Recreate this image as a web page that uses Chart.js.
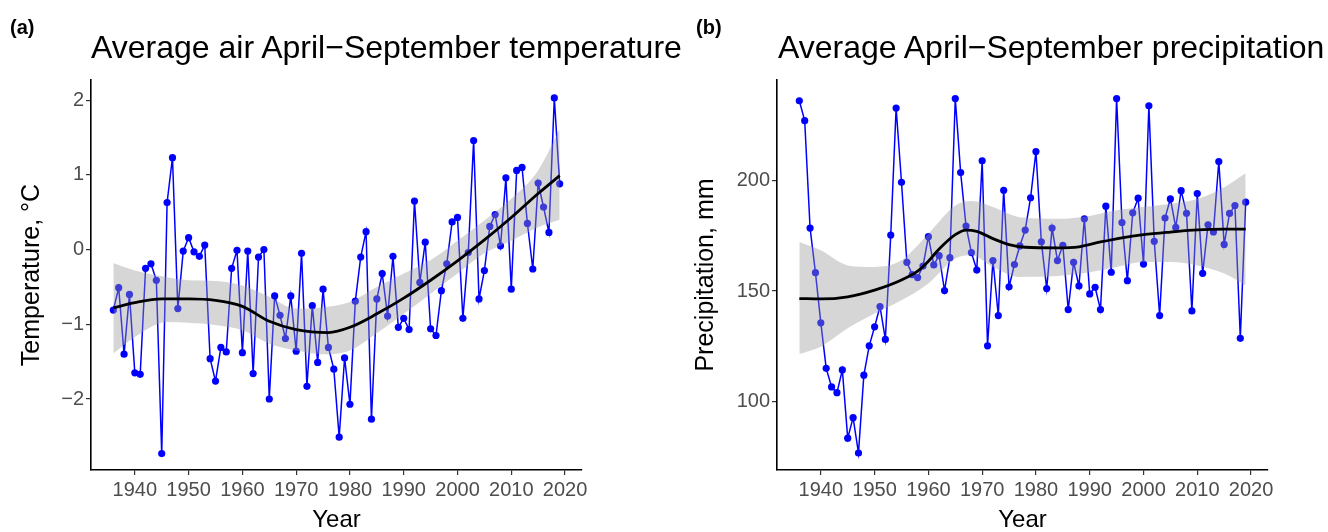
<!DOCTYPE html>
<html>
<head>
<meta charset="utf-8">
<script src="https://cdn.jsdelivr.net/npm/chart.js@4"></script>
<style>
    body { margin: 0; background: #fff; }
    #wrap { position: relative; width: 1328px; height: 532px; overflow: hidden; font-family: "Liberation Sans", Arial, sans-serif; }
    canvas { position: absolute; top: 0; }
    .tag { position: absolute; top: 17px; font-size: 20px; line-height: 20px; font-weight: bold; color: #000; }
    .ttl { position: absolute; top: 31px; font-size: 32px; line-height: 32px; color: #000; white-space: nowrap; }
</style>
</head>
<body>
<div id="wrap">
    <canvas id="chartA" width="664" height="532" style="left:0px"></canvas>
    <canvas id="chartB" width="664" height="532" style="left:664px"></canvas>
    <div class="tag" style="left:10px">(a)</div>
    <div class="ttl" style="left:91px">Average air April−September temperature</div>
    <div class="tag" style="left:696px">(b)</div>
    <div class="ttl" style="left:778px">Average April−September precipitation</div>
</div>
<script>
// Years of observation
const years = [1936, 1937, 1938, 1939, 1940, 1941, 1942, 1943, 1944, 1945,
    1946, 1947, 1948, 1949, 1950, 1951, 1952, 1953, 1954, 1955,
    1956, 1957, 1958, 1959, 1960, 1961, 1962, 1963, 1964, 1965,
    1966, 1967, 1968, 1969, 1970, 1971, 1972, 1973, 1974, 1975,
    1976, 1977, 1978, 1979, 1980, 1981, 1982, 1983, 1984, 1985,
    1986, 1987, 1988, 1989, 1990, 1991, 1992, 1993, 1994, 1995,
    1996, 1997, 1998, 1999, 2000, 2001, 2002, 2003, 2004, 2005,
    2006, 2007, 2008, 2009, 2010, 2011, 2012, 2013, 2014, 2015,
    2016, 2017, 2018, 2019];

// (a) temperature anomaly, °C
const temperature = [-0.81, -0.51, -1.40, -0.60, -1.65, -1.67, -0.25, -0.19, -0.41, -2.73,
    0.63, 1.23, -0.79, -0.02, 0.16, -0.03, -0.09, 0.06, -1.46, -1.76,
    -1.31, -1.37, -0.25, -0.01, -1.38, -0.02, -1.66, -0.10, 0.00, -2.00,
    -0.62, -0.88, -1.19, -0.62, -1.36, -0.05, -1.83, -0.75, -1.51, -0.53,
    -1.31, -1.60, -2.51, -1.45, -2.07, -0.69, -0.10, 0.24, -2.27, -0.66,
    -0.32, -0.89, -0.09, -1.04, -0.92, -1.07, 0.65, -0.44, 0.10, -1.06,
    -1.15, -0.55, -0.19, 0.37, 0.43, -0.92, -0.04, 1.46, -0.66, -0.28,
    0.31, 0.47, 0.05, 0.96, -0.53, 1.06, 1.10, 0.35, -0.26, 0.89,
    0.57, 0.23, 2.03, 0.88];

// (a) smoothed trend
const tempSmoothYears = [1936, 1940, 1945, 1950, 1955, 1960, 1965, 1970, 1976, 1980, 1985, 1990, 1995, 2000, 2005, 2010, 2015, 2019];
const tempSmooth = [-0.78, -0.71, -0.66, -0.66, -0.68, -0.76, -0.96, -1.07, -1.11, -1.04, -0.86, -0.65, -0.41, -0.15, 0.13, 0.43, 0.75, 0.99];
const tempBandYears = [1936, 1940, 1946, 1950, 1955, 1960, 1965, 1970, 1975, 1980, 1985, 1990, 1995, 2000, 2005, 2010, 2015, 2019];
const tempUpper = [-0.18, -0.28, -0.37, -0.41, -0.42, -0.48, -0.63, -0.79, -0.77, -0.70, -0.50, -0.32, -0.14, 0.12, 0.39, 0.68, 1.06, 1.61];
const tempLower = [-1.39, -1.17, -0.97, -0.98, -1.01, -1.08, -1.26, -1.35, -1.40, -1.35, -1.12, -0.86, -0.59, -0.32, -0.05, 0.12, 0.30, 0.40];

// (b) precipitation, mm
const precipitation = [236.1, 227.1, 178.5, 158.3, 135.6, 115.0, 106.6, 104.0, 114.3, 83.4,
    92.7, 76.7, 111.9, 125.2, 133.8, 143.0, 128.1, 175.3, 232.8, 199.2,
    163.0, 157.4, 156.1, 161.3, 174.6, 161.8, 166.0, 150.2, 165.1, 237.1,
    203.6, 179.4, 167.4, 159.5, 208.9, 125.2, 163.8, 138.9, 195.6, 151.9,
    162.0, 170.4, 177.6, 192.2, 213.1, 172.3, 151.1, 178.5, 163.8, 170.7,
    141.6, 163.0, 152.3, 182.7, 148.7, 151.7, 141.6, 188.4, 158.5, 237.1,
    181.0, 154.7, 185.4, 192.0, 162.2, 233.8, 172.5, 138.9, 183.0, 191.7,
    178.8, 195.4, 185.2, 141.0, 194.1, 158.0, 180.0, 176.7, 208.6, 171.1,
    185.1, 188.7, 128.6, 190.2];

const precSmoothYears = [1936, 1940, 1945, 1950, 1955, 1958, 1960, 1962, 1965, 1967, 1969, 1972, 1975, 1978, 1984, 1988, 1992, 1996, 2000, 2005, 2010, 2015, 2019];
const precSmooth = [146.6, 146.4, 147.4, 150.4, 155.0, 159.0, 163.5, 169.0, 175.5, 177.6, 177.0, 173.7, 171.0, 169.8, 169.5, 170.0, 172.2, 174.1, 175.5, 176.7, 177.7, 178.0, 178.0];
const precBandYears = [1936, 1940, 1945, 1950, 1955, 1960, 1965, 1968, 1972, 1977, 1984, 1990, 1995, 2000, 2005, 2010, 2015, 2019];
const precUpper = [172.2, 168.4, 161.6, 160.9, 163.9, 175.9, 188.7, 190.7, 188.0, 183.4, 182.7, 184.0, 186.5, 188.0, 189.5, 191.7, 197.0, 203.3];
const precLower = [121.5, 124.8, 133.1, 139.8, 145.8, 153.4, 164.7, 166.2, 160.9, 156.4, 156.8, 158.5, 160.9, 163.1, 163.1, 161.6, 157.9, 152.6];

const xTicks = [1940, 1950, 1960, 1970, 1980, 1990, 2000, 2010, 2020];
const tempTicks = [-2, -1, 0, 1, 2];
const precTicks = [100, 150, 200];

const FONT = '"Liberation Sans", Arial, sans-serif';

function pairs(xs, ys) {
    return xs.map((x, i) => ({ x: x, y: ys[i] }));
}

function fmt(v) {
    return v < 0 ? '\u2212' + Math.abs(v) : String(v);
}

function makePanel(id, cfg) {
    const ctx = document.getElementById(id).getContext('2d');
    return new Chart(ctx, {
        type: 'line',
        data: {
            datasets: [
            {
                // smooth trend on top
                data: pairs(cfg.smoothYears, cfg.smooth),
                borderColor: '#000000',
                borderWidth: 2.8,
                pointRadius: 0,
                cubicInterpolationMode: 'monotone',
                fill: false,
                order: 0
            },
            {
                // confidence band, upper edge
                data: pairs(cfg.bandYears, cfg.upper),
                borderWidth: 0,
                borderColor: 'rgba(0,0,0,0)',
                backgroundColor: 'rgba(153, 153, 153, 0.4)',
                pointRadius: 0,
                cubicInterpolationMode: 'monotone',
                fill: '+1',
                order: 1
            },
            {
                data: pairs(cfg.bandYears, cfg.lower),
                borderWidth: 0,
                borderColor: 'rgba(0,0,0,0)',
                pointRadius: 0,
                cubicInterpolationMode: 'monotone',
                fill: false,
                order: 1
            },
            {
                // yearly observations
                data: pairs(years, cfg.values),
                borderColor: '#0000ff',
                backgroundColor: '#0000ff',
                borderWidth: 1.5,
                pointRadius: 3.6,
                pointBorderWidth: 0,
                tension: 0,
                fill: false,
                order: 2
            }
            ]
        },
        options: {
            responsive: false,
            animation: false,
            devicePixelRatio: 1,
            layout: { padding: { left: 0, top: 80, right: cfg.padRight, bottom: 0 } },
            plugins: {
                legend: { display: false },
                tooltip: { enabled: false }
            },
            scales: {
                x: {
                    type: 'linear',
                    min: 1931.85,
                    max: 2023.15,
                    afterBuildTicks: (scale) => { scale.ticks = xTicks.map(v => ({ value: v })); },
                    afterFit: (scale) => { scale.height = 62; },
                    ticks: {
                        autoSkip: false,
                        maxRotation: 0,
                        padding: 3,
                        color: '#4d4d4d',
                        font: { family: FONT, size: 20 },
                        callback: (v) => String(v)
                    },
                    grid: { drawOnChartArea: false, drawTicks: true, tickLength: 5, color: '#333333', lineWidth: 1.2 },
                    border: { display: true, color: '#000000', width: 1.6 },
                    title: {
                        display: true,
                        text: 'Year',
                        color: '#000000',
                        padding: { top: 0, bottom: 0 },
                        font: { family: FONT, size: 24, lineHeight: 1 }
                    }
                },
                y: {
                    min: cfg.yMin,
                    max: cfg.yMax,
                    afterBuildTicks: (scale) => { scale.ticks = cfg.yTicks.map(v => ({ value: v })); },
                    afterFit: (scale) => { scale.width = cfg.yWidth; },
                    ticks: {
                        padding: 2,
                        color: '#4d4d4d',
                        font: { family: FONT, size: 20 },
                        callback: (v) => fmt(v)
                    },
                    grid: { drawOnChartArea: false, drawTicks: true, tickLength: 5, color: '#333333', lineWidth: 1.2 },
                    border: { display: true, color: '#000000', width: 1.6 },
                    title: {
                        display: true,
                        text: cfg.yTitle,
                        color: '#000000',
                        padding: { top: cfg.titlePad, bottom: 0 },
                        font: { family: FONT, size: 25, lineHeight: 1.2 }
                    }
                }
            }
        }
    });
}

makePanel('chartA', {
    values: temperature,
    smoothYears: tempSmoothYears, smooth: tempSmooth,
    bandYears: tempBandYears, upper: tempUpper, lower: tempLower,
    yMin: -2.95, yMax: 2.27, yTicks: tempTicks,
    yTitle: 'Temperature, °C',
    yWidth: 91, padRight: 82, titlePad: 17
});

makePanel('chartB', {
    values: precipitation,
    smoothYears: precSmoothYears, smooth: precSmooth,
    bandYears: precBandYears, upper: precUpper, lower: precLower,
    yMin: 69, yMax: 245.5, yTicks: precTicks,
    yTitle: 'Precipitation, mm',
    yWidth: 113, padRight: 60, titlePad: 27
});
</script>
</body>
</html>
